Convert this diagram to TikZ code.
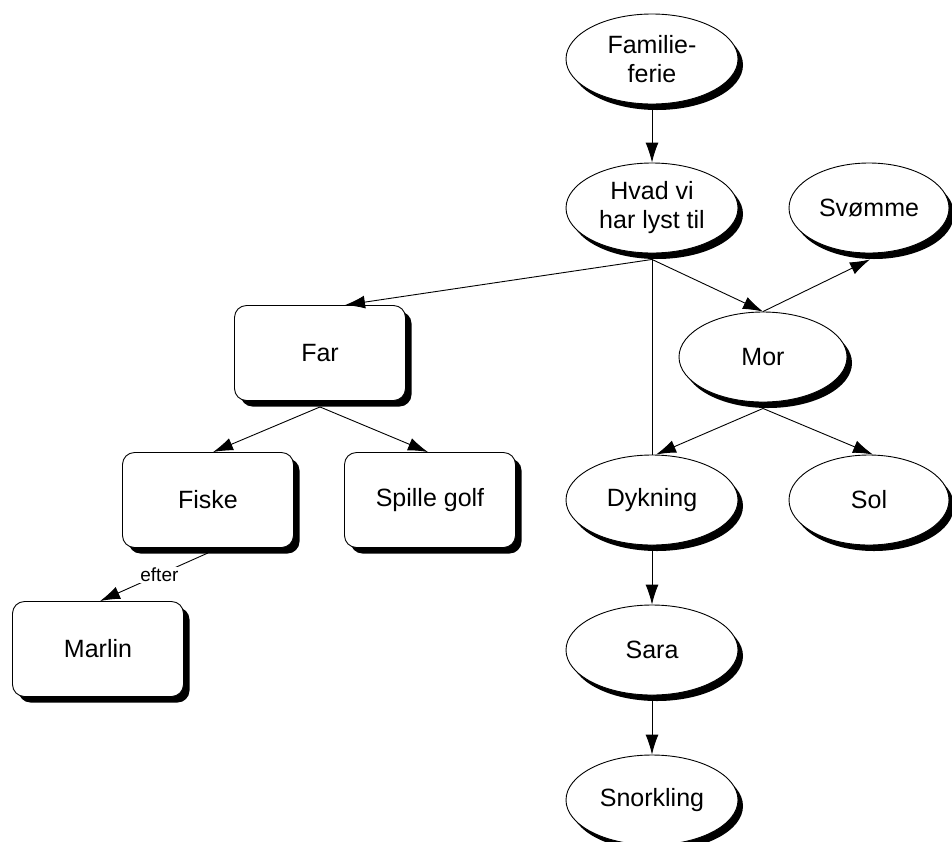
\documentclass[tikz,border=0pt]{standalone}
\usepackage{fontspec}
\setmainfont{Liberation Sans}
\usetikzlibrary{shadows,arrows.meta,shapes.geometric}
\tikzset{
  ell/.style={ellipse, draw=black, line width=0.9pt, fill=white, minimum width=172pt, minimum height=90pt, inner sep=0pt, align=center,
    font=\fontsize{25}{29}\selectfont,
    drop shadow={shadow xshift=5pt, shadow yshift=-6pt, fill=black, opacity=1}},
  rbox/.style={rectangle, rounded corners=12pt, draw=black, line width=0.9pt, fill=white, minimum width=171pt, minimum height=95pt, inner sep=0pt, align=center,
    font=\fontsize{25}{29}\selectfont,
    drop shadow={shadow xshift=6pt, shadow yshift=-6pt, fill=black, opacity=1}},
  conn/.style={line width=0.9pt, -{Latex[length=20pt,width=13pt]}},
  plain/.style={line width=0.9pt}
}
\begin{document}
\begin{tikzpicture}[x=1pt,y=-1pt]
\path[use as bounding box] (0,0) rectangle (952,841);
\node[ell] (fam) at (652,59) {Familie-\\ferie};
\node[ell] (hvad) at (652,208) {Hvad vi\\har lyst til};
\node[ell, minimum width=160pt] (svo) at (869,208) {Svømme};
\node[ell, minimum width=168pt] (mor) at (763,357) {Mor};
\node[rbox] (far) at (320,353) {Far};
\node[rbox] (fiske) at (208,500) {Fiske};
\node[rbox] (golf) at (430,500) {Spille golf};
\node[ell] (dyk) at (652,500) {Dykning};
\node[ell, minimum width=160pt] (sol) at (869,500) {Sol};
\node[rbox] (marlin) at (98,649) {Marlin};
\node[ell] (sara) at (652,650) {Sara};
\node[ell] (snork) at (652,800) {Snorkling};

\coordinate (hvadb) at ([yshift=-6pt]hvad.south);
\coordinate (morb) at ([yshift=-6pt]mor.south);
\coordinate (farb) at ([yshift=-6pt]far.south);
\coordinate (fiskeb) at ([yshift=-5pt]fiske.south);

\draw[conn] ([yshift=-6pt]fam.south) -- (hvad.north);
\draw[conn] (hvadb) -- ([xshift=25pt]far.north);
\draw[conn] (hvadb) -- (mor.north);
\draw[plain] (hvadb) -- (dyk.north);
\draw[conn] (mor.north) -- ([xshift=1pt,yshift=-6pt]svo.south);
\draw[conn] (morb) -- ([xshift=4pt]dyk.north);
\draw[conn] (morb) -- ([xshift=4pt]sol.north);
\draw[conn] (farb) -- ([xshift=5pt]fiske.north);
\draw[conn] (farb) -- ([xshift=-2pt]golf.north);
\draw[conn] (fiskeb) -- node[fill=white, inner sep=1pt, font=\fontsize{19}{22}\selectfont, pos=0.45] {efter} ([xshift=2pt]marlin.north);
\draw[conn] ([yshift=-6pt]dyk.south) -- (sara.north);
\draw[conn] ([yshift=-6pt]sara.south) -- (snork.north);
\end{tikzpicture}
\end{document}
